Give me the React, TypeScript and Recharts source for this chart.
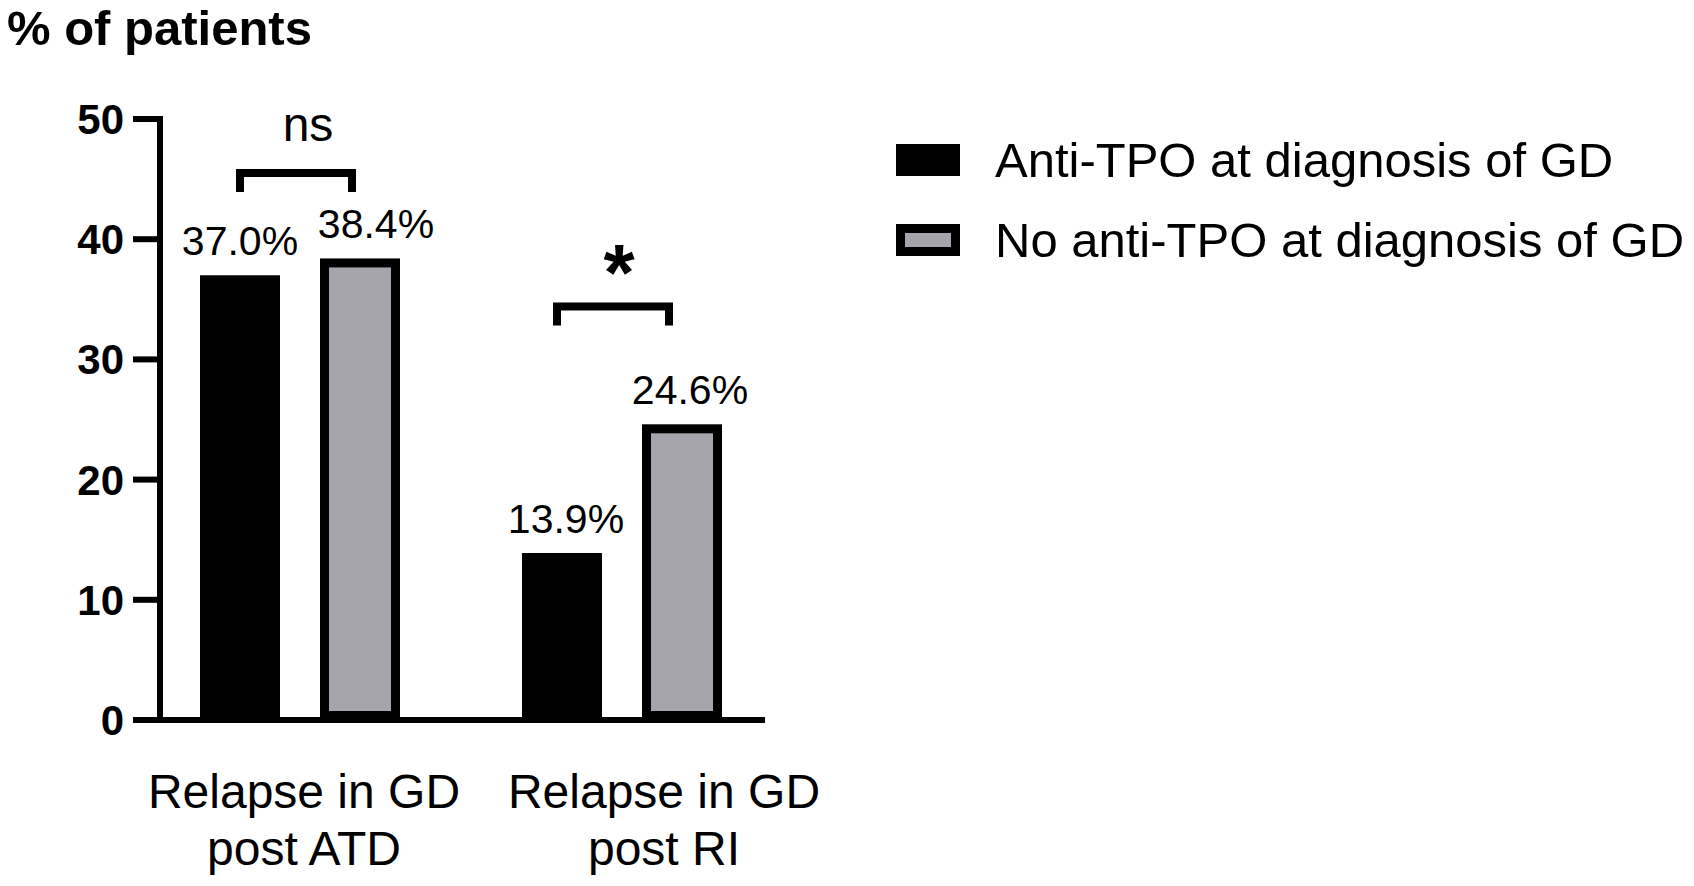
import * as React from "react";
import { Bar, BarChart, LabelList, Legend, XAxis, YAxis } from "recharts";

// values (percent of patients)
const CATEGORIES = ["post ATD", "post RI"];
const CATEGORY_LINES = [
  ["Relapse in GD", "post ATD"],
  ["Relapse in GD", "post RI"],
];
const ANTI_TPO = [37.0, 13.9];
const NO_ANTI_TPO = [38.4, 24.6];
const SIG_LABELS = ["ns", "*"];
const SIG_LEVEL = [45.5, 34.4];
const Y_TICKS = [0, 10, 20, 30, 40, 50];
const SERIES_NAMES = ["Anti-TPO at diagnosis of GD", "No anti-TPO at diagnosis of GD"];

const FONT = '"Liberation Sans", Arial, Helvetica, sans-serif';
const GREY = "#a5a4ac";
const BORDER = 9;
const LABEL_SHIFT = [4, 42];
const BRACKET_SHIFT = [-4, -9];
const ANTI_LABEL_DX = [0, 4];
const NO_ANTI_LABEL_DX = [16, 8];

const data = CATEGORIES.map((c, i) => ({
  cat: c,
  anti: ANTI_TPO[i],
  noAnti: NO_ANTI_TPO[i],
  sig: SIG_LEVEL[i],
}));

function BorderedBar(props: any) {
  const { x, y, width, height } = props;
  if (!height || height <= 0) return null;
  const h = BORDER / 2;
  return (
    <rect
      x={x + h}
      y={y + h}
      width={Math.max(width - BORDER, 0)}
      height={Math.max(height - BORDER, 0)}
      fill={GREY}
      stroke="#000"
      strokeWidth={BORDER}
    />
  );
}

function Bracket(props: any) {
  const { y, width, index } = props;
  const x = props.x + (BRACKET_SHIFT[index] ?? 0);
  const leg = 19;
  return (
    <path
      d={`M${x},${y + leg} L${x},${y} L${x + width},${y} L${x + width},${y + leg}`}
      fill="none"
      stroke="#000"
      strokeWidth={8}
      strokeLinejoin="miter"
    />
  );
}

function CategoryTick(props: any) {
  const { x, y, index } = props;
  const lines = CATEGORY_LINES[index] ?? [];
  const cx = x + (LABEL_SHIFT[index] ?? 0);
  return (
    <g>
      {lines.map((line, i) => (
        <text
          key={i}
          x={cx}
          y={y + 88 + i * 57}
          textAnchor="middle"
          fontFamily={FONT}
          fontSize={48}
          fill="#000"
        >
          {line}
        </text>
      ))}
    </g>
  );
}

function ValueLabel(shifts: number[]) {
  return (p: any) => {
    const { x, y, width, value, index } = p;
    return (
      <text
        x={x + width / 2 + (shifts[index] ?? 0)}
        y={y - 20}
        textAnchor="middle"
        fontFamily={FONT}
        fontSize={41}
        fill="#000"
      >
        {`${Number(value).toFixed(1)}%`}
      </text>
    );
  };
}

function SigLabel(p: any) {
  const { x, y, width, index } = p;
  const star = SIG_LABELS[index] === "*";
  const cx = x + width / 2 + (BRACKET_SHIFT[index] ?? 0);
  return (
    <text
      x={cx + (star ? 6 : 12)}
      y={star ? y - 7 : y - 32}
      textAnchor="middle"
      fontFamily={FONT}
      fontSize={star ? 80 : 48}
      fontWeight={star ? 700 : 400}
      fill="#000"
    >
      {SIG_LABELS[index]}
    </text>
  );
}

function LegendBox() {
  return (
    <div style={{ fontFamily: FONT }}>
      {SERIES_NAMES.map((name, i) => (
        <div key={name} style={{ height: 80, display: "flex", alignItems: "center" }}>
          <div
            style={{
              width: 64,
              height: 32,
              boxSizing: "border-box",
              background: i === 0 ? "#000" : GREY,
              border: i === 0 ? "none" : `${BORDER}px solid #000`,
            }}
          />
          <span style={{ marginLeft: 35, fontSize: 49, color: "#000", whiteSpace: "nowrap" }}>{name}</span>
        </div>
      ))}
    </div>
  );
}

export default function App() {
  return (
    <div style={{ position: "relative", width: 1694, height: 886, background: "#fff", fontFamily: FONT }}>
      <style>{"body{margin:0;background:#fff}"}</style>
      <div
        style={{
          position: "absolute",
          left: 7,
          top: 0,
          fontSize: 49,
          fontWeight: 700,
          color: "#000",
          whiteSpace: "nowrap",
          zIndex: 2,
        }}
      >
        % of patients
      </div>
      <BarChart
        width={1694}
        height={886}
        data={data}
        margin={{ top: 119, right: 929, bottom: 0, left: 0 }}
        barSize={80}
        barGap={40}
      >
        <XAxis
          dataKey="cat"
          interval={0}
          height={166}
          padding={{ left: -21, right: -18 }}
          axisLine={{ stroke: "#000", strokeWidth: 6 }}
          tickLine={false}
          tickSize={0}
          tickMargin={0}
          tick={(p: any) => <CategoryTick {...p} />}
        />
        <XAxis xAxisId="b" dataKey="cat" hide padding={{ left: -21, right: -18 }} />
        <YAxis
          width={160}
          domain={[0, 50]}
          ticks={Y_TICKS}
          interval={0}
          axisLine={{ stroke: "#000", strokeWidth: 6, strokeLinecap: "square" }}
          tickLine={{ stroke: "#000", strokeWidth: 6 }}
          tickSize={27}
          tickMargin={9}
          tick={{ fill: "#000", fontSize: 42, fontWeight: 700, fontFamily: FONT }}
        />
        <Legend
          layout="vertical"
          align="center"
          verticalAlign="middle"
          wrapperStyle={{ left: 896, top: 120, width: 790 }}
          content={() => <LegendBox />}
        />
        <Bar dataKey="anti" name={SERIES_NAMES[0]} fill="#000" isAnimationActive={false}>
          <LabelList dataKey="anti" content={ValueLabel(ANTI_LABEL_DX)} />
        </Bar>
        <Bar
          dataKey="noAnti"
          name={SERIES_NAMES[1]}
          fill={GREY}
          shape={(p: any) => <BorderedBar {...p} />}
          isAnimationActive={false}
        >
          <LabelList dataKey="noAnti" content={ValueLabel(NO_ANTI_LABEL_DX)} />
        </Bar>
        <Bar
          xAxisId="b"
          dataKey="sig"
          barSize={112}
          legendType="none"
          shape={(p: any) => <Bracket {...p} />}
          isAnimationActive={false}
        >
          <LabelList dataKey="sig" content={SigLabel} />
        </Bar>
      </BarChart>
    </div>
  );
}
